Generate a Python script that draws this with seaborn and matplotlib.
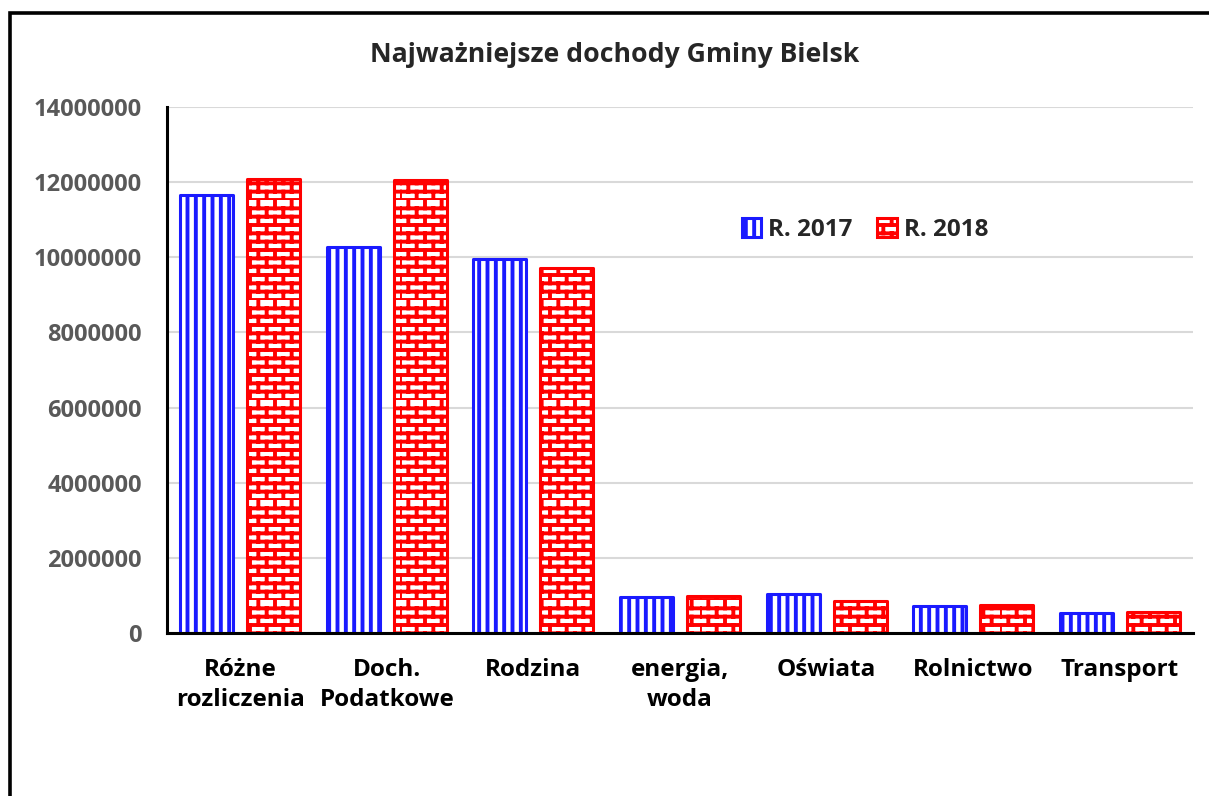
import warnings
import numpy as np
import pandas as pd
import seaborn as sns
import matplotlib.pyplot as plt
import matplotlib.hatch as mhatch
from matplotlib.path import Path
from matplotlib.patches import Patch, Rectangle

warnings.filterwarnings("ignore")

kategorie = ["Różne\nrozliczenia", "Doch.\nPodatkowe", "Rodzina", "energia,\nwoda",
             "Oświata", "Rolnictwo", "Transport"]
r2017 = [11650000, 10280000, 9950000, 950000, 1050000, 730000, 530000]
r2018 = [12080000, 12050000, 9720000, 980000, 860000, 750000, 560000]
lata = ["R. 2017", "R. 2018"]
kolory = ["#1a1aff", "#ff0000"]
wzory = ["||", "b"]
yticks = [0, 2000000, 4000000, 6000000, 8000000, 10000000, 12000000, 14000000]


# wzór "cegiełki" (brak w matplotlib)
class BrickHatch(mhatch.HatchPatternBase):
    def __init__(self, hatch, density):
        self.rows = 12 * hatch.count("b")
        self.cols = 6
        self.num_vertices = (self.rows + self.rows * self.cols) * 2

    def set_vertices_and_codes(self, vertices, codes):
        pts = []
        for i in range(self.rows):
            y0 = i / self.rows
            pts += [(0, y0), (1, y0)]
            shift = 0.5 / self.cols if i % 2 else 0
            for j in range(self.cols):
                x = j / self.cols + shift
                pts += [(x, y0), (x, y0 + 1 / self.rows)]
        vertices[:] = pts
        codes[0::2] = Path.MOVETO
        codes[1::2] = Path.LINETO


mhatch._hatch_types.append(BrickHatch)

df = pd.DataFrame({
    "kategoria": kategorie * 2,
    "wartosc": r2017 + r2018,
    "rok": [lata[0]] * len(kategorie) + [lata[1]] * len(kategorie),
})

sns.set_style("white")
plt.rcParams["font.family"] = ["Open Sans", "DejaVu Sans"]
plt.rcParams["font.weight"] = "bold"
plt.rcParams["hatch.linewidth"] = 2.8

fig = plt.figure(figsize=(12.09, 7.96), dpi=100)
ax = fig.add_axes([0.1381, 0.2048, 0.8487, 0.6608])

sns.barplot(data=df, x="kategoria", y="wartosc", hue="rok", palette=kolory,
            saturation=1, width=0.914, gap=0.21, legend=False, ax=ax)

for cont, kol, wz in zip(ax.containers, kolory, wzory):
    for bar in cont:
        bar.set_facecolor("white")
        bar.set_edgecolor(kol)
        bar.set_hatch(wz)
        bar.set_linewidth(2.2)
        bar.set_joinstyle("round")

ax.set_ylim(0, 14000000)
ax.set_yticks(yticks)
ax.set_yticklabels([str(v) for v in yticks])
ax.set_xlabel("")
ax.set_ylabel("")
ax.yaxis.grid(True, color="#d9d9d9", lw=1.5)
ax.set_axisbelow(True)
for s in ["top", "right"]:
    ax.spines[s].set_visible(False)
for s in ["left", "bottom"]:
    ax.spines[s].set_color("black")
    ax.spines[s].set_linewidth(2.2)

ax.tick_params(axis="y", length=0, pad=18, labelsize=17, labelcolor="#595959")
ax.tick_params(axis="x", length=0, pad=18, labelsize=17.5, labelcolor="black")
for t in ax.get_xticklabels():
    t.set_linespacing(1.35)
    t.set_fontweight("bold")
for t in ax.get_yticklabels():
    t.set_fontweight("bold")

handles = [Patch(facecolor="white", edgecolor=k, hatch=w, lw=2.2) for k, w in zip(kolory, wzory)]
fig.legend(handles, lata, loc="center", bbox_to_anchor=(865 / 1209, 1 - 230 / 796), ncol=2,
           frameon=False, handlelength=0.8, handleheight=0.8, handletextpad=0.3,
           columnspacing=1.0, prop={"size": 17.5, "weight": "bold"})

fig.text(615 / 1209, 1 - 55 / 796, "Najważniejsze dochody Gminy Bielsk",
         ha="center", va="center", fontsize=19.2, fontweight="bold")

# ramka wykresu
fig.add_artist(Rectangle((10 / 1209, -0.5), 2, 1 - 13 / 796 + 0.5, fill=False,
                         edgecolor="black", lw=2.6, transform=fig.transFigure))

fig.savefig("out.png", dpi=100)
